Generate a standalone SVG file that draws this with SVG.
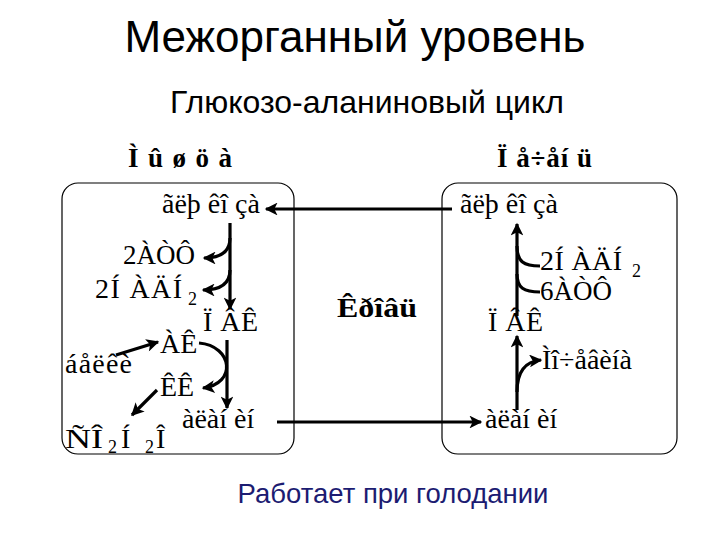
<svg xmlns="http://www.w3.org/2000/svg" width="720" height="540" viewBox="0 0 720 540">
<style>
.t{font-family:"Liberation Sans",Arial,sans-serif;fill:#000}
.s{font-family:"Liberation Serif","Times New Roman",serif;font-size:28px;fill:#000}
.b{font-family:"Liberation Serif","Times New Roman",serif;font-size:27px;font-weight:bold;fill:#000}
.sub{font-family:"Liberation Serif","Times New Roman",serif;font-size:18px;fill:#000}
.box{fill:none;stroke:#000;stroke-width:1.2}
.ln{fill:none;stroke:#000;stroke-width:3.2}
</style>
<defs>
<marker id="ah" viewBox="0 0 10 10" refX="9" refY="5" markerWidth="5.5" markerHeight="4" orient="auto" markerUnits="strokeWidth">
<path d="M0,0 L10,5 L0,10 L2.5,5 Z" fill="#000"/>
</marker>
</defs>
<rect width="720" height="540" fill="#fff"/>
<g id="title">
<text class="t" x="355" y="52" font-size="44" text-anchor="middle">Межорганный уровень</text>
<text class="t" x="367" y="113" font-size="32" text-anchor="middle">Глюкозо-аланиновый цикл</text>
<text class="t" x="393" y="503" font-size="27.5" text-anchor="middle" style="fill:#1c1c72">Работает при голодании</text>
</g>
<g id="muscle">
<text class="b" x="128" y="167" textLength="104" lengthAdjust="spacing">Ì û ø ö à</text>
<rect class="box" x="62" y="183" width="232" height="271" rx="16"/>
<text class="s" x="162" y="213">ãëþ êî çà</text>
<text class="s" x="123" y="264" textLength="72" lengthAdjust="spacingAndGlyphs">2ÀÒÔ</text>
<text class="s" x="95" y="298" textLength="87" lengthAdjust="spacing">2Í ÀÄÍ</text>
<text class="sub" x="188" y="305">2</text>
<text class="s" x="203" y="331" textLength="55" lengthAdjust="spacing">Ï ÂÊ</text>
<text class="s" x="160" y="353">ÀÊ</text>
<text class="s" x="65" y="373" textLength="67" lengthAdjust="spacing">áåëêè</text>
<text class="s" x="160" y="396">ÊÊ</text>
<text class="s" x="182" y="428">àëàí èí</text>
<text class="s" x="65" y="448" textLength="38" lengthAdjust="spacingAndGlyphs">ÑÎ</text>
<text class="sub" x="108" y="453">2</text>
<text class="s" x="121" y="448">Í</text>
<text class="sub" x="145" y="453">2</text>
<text class="s" x="156" y="448">Î</text>
</g>
<g id="liver">
<text class="b" x="497" y="167" textLength="95" lengthAdjust="spacing">Ï å÷åí ü</text>
<rect class="box" x="442" y="183" width="235" height="271" rx="16"/>
<text class="s" x="460" y="213">ãëþ êî çà</text>
<text class="s" x="540" y="270" textLength="82" lengthAdjust="spacing">2Í ÀÄÍ</text>
<text class="sub" x="632" y="277">2</text>
<text class="s" x="540" y="300" textLength="72" lengthAdjust="spacingAndGlyphs">6ÀÒÔ</text>
<text class="s" x="488" y="331" textLength="55" lengthAdjust="spacing">Ï ÂÊ</text>
<text class="s" x="542" y="369" textLength="90" lengthAdjust="spacing">Ìî÷åâèíà</text>
<text class="s" x="485" y="428">àëàí èí</text>
</g>
<g id="blood">
<text class="b" x="337" y="317" textLength="80" lengthAdjust="spacingAndGlyphs">Êðîâü</text>
</g>
<g id="connectors">
<line class="ln" x1="452" y1="209" x2="266" y2="209" marker-end="url(#ah)"/>
<line class="ln" x1="277" y1="422" x2="481" y2="422" marker-end="url(#ah)"/>
<line class="ln" x1="230" y1="223" x2="230" y2="309" marker-end="url(#ah)"/>
<path class="ln" d="M230,238 Q230,258 204,258" marker-end="url(#ah)"/>
<path class="ln" d="M230,270 Q230,290 203,290" marker-end="url(#ah)"/>
<path class="ln" d="M199,343 C233,346 237,384 203,388" marker-end="url(#ah)"/>
<line class="ln" x1="227" y1="340" x2="227" y2="408" marker-end="url(#ah)"/>
<line class="ln" x1="157" y1="390" x2="132" y2="415" marker-end="url(#ah)"/>
<line class="ln" x1="116" y1="355" x2="158" y2="342" marker-end="url(#ah)"/>
<line class="ln" x1="517" y1="410" x2="517" y2="336" marker-end="url(#ah)"/>
<path class="ln" d="M517,392 Q517,362 541,360" marker-end="url(#ah)"/>
<line class="ln" x1="517" y1="316" x2="517" y2="224" marker-end="url(#ah)"/>
<path class="ln" d="M540,266 C524,266 517,262 517,246"/>
<path class="ln" d="M540,292 C524,292 517,288 517,274"/>
</g>
</svg>
